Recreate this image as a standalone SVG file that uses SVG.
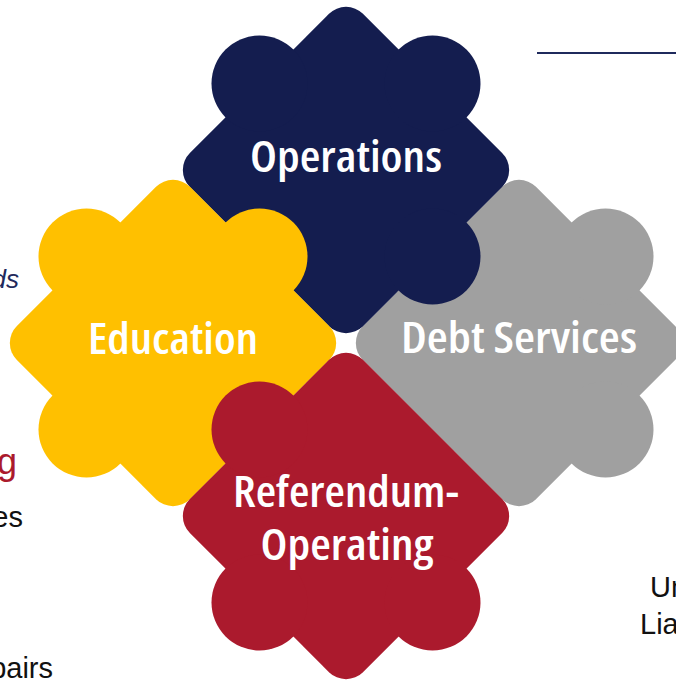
<svg xmlns="http://www.w3.org/2000/svg" xmlns:xlink="http://www.w3.org/1999/xlink" width="676" height="680" viewBox="0 0 676 680">
  <style>
    .navy { fill: #141d4f; }
    .gold { fill: #ffc000; }
    .grey { fill: #a0a0a0; }
    .red  { fill: #ab1a2d; }
    .label {
      font-family: "Open Sans", "DejaVu Sans", sans-serif;
      font-stretch: 75%;
      font-weight: 600;
      font-size: 44px;
      fill: #ffffff;
      text-anchor: middle;
    }
    .side {
      font-family: "Liberation Sans", Arial, sans-serif;
      font-size: 29px;
      fill: #111111;
    }
  </style>
  <defs>
    <!-- rounded square turned 45 degrees: the body of each puzzle piece -->
    <rect id="body" x="-122.4" y="-122.4" width="244.8" height="244.8" rx="24" ry="24" transform="rotate(45)"/>
    <!-- round tab sitting on the middle of an edge -->
    <circle id="tab" r="48"/>
  </defs>

  <rect width="676" height="680" fill="#ffffff"/>

  <!-- decorative rule, top right -->
  <g id="decor">
    <line x1="537" y1="53" x2="676" y2="53" stroke="#1f2a5c" stroke-width="2"/>
  </g>

  <!-- side texts running off the page edges -->
  <g id="side-texts">
    <text class="side" x="19" y="288" text-anchor="end" font-style="italic" style="fill:#1f2a5c;font-size:26px">ds</text>
    <text class="side" x="-3" y="474" style="fill:#ab1a2d;font-size:36px">g</text>
    <text class="side" x="23" y="527" text-anchor="end">es</text>
    <text class="side" x="53" y="678" text-anchor="end">pairs</text>
    <text class="side" x="650" y="597">Un</text>
    <text class="side" x="640" y="634">Lia</text>
  </g>

  <!-- Debt Services -->
  <g id="debt-services" class="grey" transform="translate(519,343)">
    <use xlink:href="#body"/>
    <use xlink:href="#tab" x="86.5" y="-86.5"/>
    <use xlink:href="#tab" x="86.5" y="86.5"/>
    <text class="label" x="0" y="10" textLength="236" lengthAdjust="spacingAndGlyphs">Debt Services</text>
  </g>

  <!-- Operations -->
  <g id="operations" class="navy" transform="translate(346,170)">
    <use xlink:href="#body"/>
    <use xlink:href="#tab" x="-86.5" y="-86.5"/>
    <use xlink:href="#tab" x="86.5" y="-86.5"/>
    <use xlink:href="#tab" x="86.5" y="86.5"/>
    <text class="label" x="0" y="2" textLength="192" lengthAdjust="spacingAndGlyphs">Operations</text>
  </g>

  <!-- Education -->
  <g id="education" class="gold" transform="translate(173,343)">
    <use xlink:href="#body"/>
    <use xlink:href="#tab" x="-86.5" y="-86.5"/>
    <use xlink:href="#tab" x="86.5" y="-86.5"/>
    <use xlink:href="#tab" x="-86.5" y="86.5"/>
    <text class="label" x="0" y="11" textLength="170" lengthAdjust="spacingAndGlyphs">Education</text>
  </g>

  <!-- Referendum-Operating -->
  <g id="referendum-operating" class="red" transform="translate(346,516)">
    <use xlink:href="#body"/>
    <use xlink:href="#tab" x="-86.5" y="-86.5"/>
    <use xlink:href="#tab" x="-86.5" y="86.5"/>
    <use xlink:href="#tab" x="86.5" y="86.5"/>
    <text class="label" x="0" y="-9" textLength="226" lengthAdjust="spacingAndGlyphs">Referendum-</text>
    <text class="label" x="1" y="44" textLength="173" lengthAdjust="spacingAndGlyphs">Operating</text>
  </g>
</svg>
